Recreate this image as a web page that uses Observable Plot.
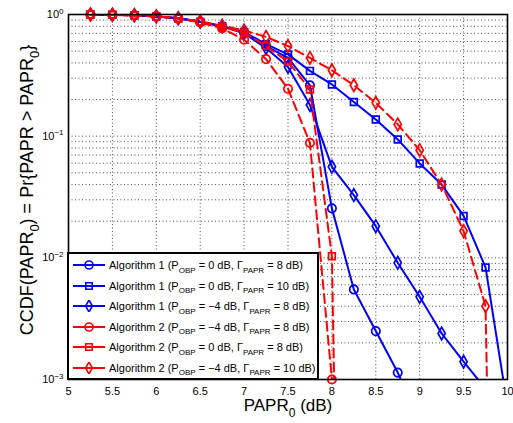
<!DOCTYPE html>
<html><head><meta charset="utf-8">
<script src="https://cdn.jsdelivr.net/npm/d3@7"></script>
<script src="https://cdn.jsdelivr.net/npm/@observablehq/plot@0.6"></script>
<style>
body{margin:0;background:#fff;font-family:"Liberation Sans",Arial,sans-serif;}
#wrap{position:relative;width:513px;height:423px;}
#legend{position:absolute;left:67px;top:252px;width:248px;height:124px;border:2px solid #000;background:#fff;box-sizing:content-box;}
.row{position:absolute;left:0;height:20px;display:flex;align-items:center;font-size:11px;white-space:nowrap;color:#000}
.row svg{margin-left:4px;margin-right:4px}
.sub{font-size:8px;position:relative;top:3.5px}
</style></head><body><div id="wrap"></div>
<script>
// PAPR0 values (dB)
const papr0 = [5.25,5.5,5.75,6,6.25,6.5,6.75,7,7.25,7.5,7.75,8,8.25,8.5,8.75,9,9.25,9.5,9.75,10];
// CCDF values per series (null = not plotted)
const alg1_obp0_g8   = [1,0.995,0.985,0.965,0.93,0.87,0.80,0.71,0.55,0.44,0.262,0.0255,0.0055,0.0025,0.00114,0.00045,null,null,null,null];
const alg1_obp0_g10  = [1,0.995,0.985,0.965,0.93,0.87,0.80,0.72,0.57,0.47,0.344,0.266,0.191,0.137,0.094,0.0597,0.040,0.0221,0.00834,0.0006];
const alg1_obpm4_g8  = [1,0.995,0.985,0.965,0.93,0.87,0.80,0.70,0.53,0.37,0.18,0.056,0.0328,0.0182,0.0091,0.00478,0.00239,0.0014,0.00084,null];
const alg2_obpm4_g8  = [1,0.995,0.985,0.965,0.93,0.86,0.77,0.62,0.43,0.245,0.088,0.001,null,null,null,null,null,null,null,null];
const alg2_obp0_g8   = [1,0.995,0.985,0.965,0.93,0.87,0.79,0.71,0.55,0.41,0.242,0.0103,1e-12,null,null,null,null,null,null,null];
const alg2_obpm4_g10 = [1,0.995,0.985,0.965,0.93,0.88,0.81,0.74,0.655,0.55,0.44,0.348,0.262,0.188,0.125,0.0767,0.040,0.0166,0.0040,1e-12];

const seriesValues = [alg1_obp0_g8, alg1_obp0_g10, alg1_obpm4_g8, alg2_obpm4_g8, alg2_obp0_g8, alg2_obpm4_g10];
// legend labels: [algorithm, P_OBP, Gamma_PAPR]
const legendAlg = ["Algorithm 1","Algorithm 1","Algorithm 1","Algorithm 2","Algorithm 2","Algorithm 2"];
const legendObp = ["0","0","\u22124","\u22124","0","\u22124"];
const legendGamma = ["8","10","8","8","8","10"];
const xTicks = [5,5.5,6,6.5,7,7.5,8,8.5,9,9.5,10];
const yTicks = [1e-3,1e-2,1e-1,1];

// styles
const colors = ["#0000ff","#0000ff","#0000ff","#ff0000","#ff0000","#ff0000"];
const dashes = [null,null,null,"9,5","9,5","9,5"];
const symbols = ["circle","square","diamond","circle","square","diamond"];

const rows = [];
seriesValues.forEach((vals, s) => vals.forEach((v, i) => { if (v != null) rows.push({x: papr0[i], y: v, s}); }));

const yMinor = [];
for (let e = -3; e < 0; e++) for (let k = 1; k <= 9; k++) yMinor.push(k * Math.pow(10, e));

const marks = [
  Plot.gridX(xTicks, {stroke: "#000", strokeOpacity: 0.7, strokeDasharray: "1,2.5"}),
  Plot.gridY(yMinor, {stroke: "#000", strokeOpacity: 0.7, strokeDasharray: "1,2.5"}),
];
seriesValues.forEach((_, s) => {
  const d = rows.filter(r => r.s === s);
  marks.push(Plot.line(d, {x: "x", y: "y", stroke: colors[s], strokeWidth: 2, strokeDasharray: dashes[s], clip: true}));
  marks.push(Plot.dot(d.filter(r => r.y >= 1e-3), {x: "x", y: "y", symbol: () => symbols[s], stroke: colors[s], fill: "none", strokeWidth: 1.7, r: s % 3 === 0 ? 4.2 : 3.8}));
});
marks.push(Plot.axisX({ticks: xTicks, tickFormat: d => String(d), tickSize: 0, tickPadding: 8, fontSize: 11, label: null}));
marks.push(Plot.axisY({ticks: yTicks, tickFormat: d => String(Math.round(Math.log10(d))), tickSize: 0, tickPadding: 5, fontSize: 11, label: null}));
marks.push(Plot.frame({stroke: "#000", strokeWidth: 1.6}));

const chart = Plot.plot({
  width: 513, height: 423,
  marginLeft: 68, marginRight: 6, marginTop: 14, marginBottom: 44,
  style: {fontFamily: '"Liberation Sans", Arial, sans-serif', color: "#000", background: "#fff", overflow: "visible"},
  x: {domain: [5, 10]},
  y: {type: "log", domain: [1e-3, 1]},
  symbol: {type: "identity"},
  marks
});
document.getElementById("wrap").appendChild(chart);

const svg = d3.select(chart);
svg.selectAll('g[aria-label="y-axis tick label"] text').each(function() {
  const e = this.textContent.replace("-", "\u2212");
  const t = d3.select(this);
  t.text(null);
  t.append("tspan").text("10");
  t.append("tspan").attr("dy", "-0.55em").attr("font-size", "8px").text(e);
});

// axis labels
const xl = svg.append("text").attr("x", 288).attr("y", 411).attr("text-anchor", "middle").attr("font-size", 17).attr("fill", "#000");
xl.append("tspan").text("PAPR");
xl.append("tspan").attr("dy", 6).attr("font-size", 12).text("0");
xl.append("tspan").attr("dy", -6).text(" (dB)");

const yl = svg.append("text").attr("transform", "translate(33,190) rotate(-90)").attr("text-anchor", "middle").attr("font-size", 18).attr("fill", "#000");
yl.append("tspan").text("CCDF(PAPR");
yl.append("tspan").attr("dy", 6).attr("font-size", 13).text("0");
yl.append("tspan").attr("dy", -6).text(") = Pr{PAPR > PAPR");
yl.append("tspan").attr("dy", 6).attr("font-size", 13).text("0");
yl.append("tspan").attr("dy", -6).text("}");

// legend
const leg = document.createElement("div");
leg.id = "legend";
document.getElementById("wrap").appendChild(leg);
seriesValues.forEach((_, s) => {
  const row = document.createElement("div");
  row.className = "row";
  row.style.top = (1 + s * 20.5) + "px";
  const sw = d3.create("svg").attr("width", 32).attr("height", 12);
  sw.append("line").attr("x1", 0).attr("x2", 32).attr("y1", 6).attr("y2", 6).attr("stroke", colors[s]).attr("stroke-width", 2);
  const sym = {circle: d3.symbolCircle, square: d3.symbolSquare, diamond: d3.symbolDiamond}[symbols[s]];
  const r = s % 3 === 0 ? 4 : 3.6;
  sw.append("path").attr("d", d3.symbol(sym, Math.PI * r * r)()).attr("transform", "translate(16,6)")
    .attr("fill", "none").attr("stroke", colors[s]).attr("stroke-width", 1.6);
  row.appendChild(sw.node());
  const txt = document.createElement("span");
  txt.innerHTML = `${legendAlg[s]} (P<span class="sub">OBP</span> = ${legendObp[s]} dB, \u0393<span class="sub">PAPR</span> = ${legendGamma[s]} dB)`;
  row.appendChild(txt);
  leg.appendChild(row);
});
</script></body></html>
